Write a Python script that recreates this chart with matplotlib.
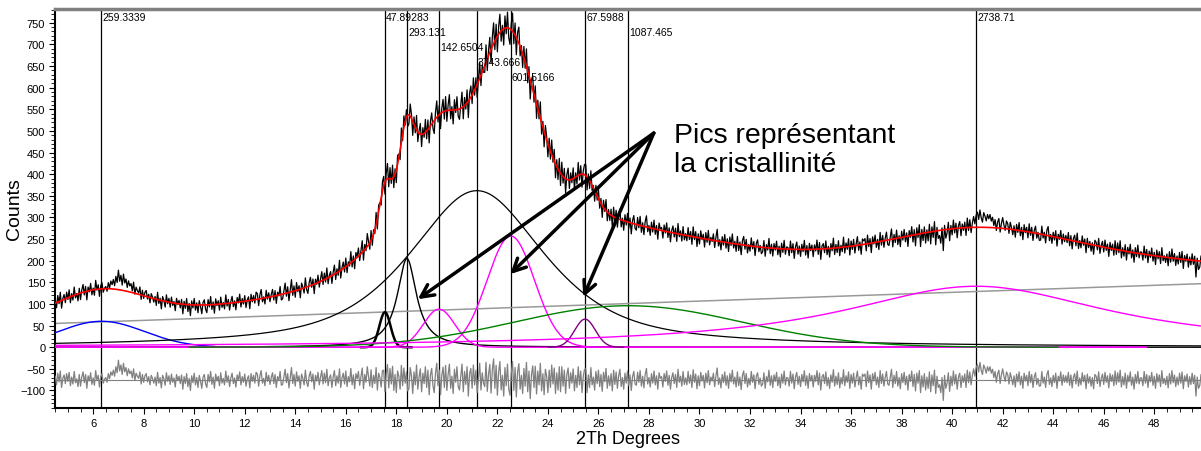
import numpy as np
import matplotlib
matplotlib.use('Agg')
import matplotlib.pyplot as plt
from matplotlib.ticker import MultipleLocator

plt.rcParams['font.family'] = ['Liberation Sans', 'DejaVu Sans']

# fitted peaks: position (2Th), height (counts), half width, lorentz share, area label
peak_pos = [6.33, 17.55, 18.42, 19.69, 21.19, 22.53, 25.47, 27.18, 40.95]
peak_height = [60, 81, 205, 88, 362, 257, 65, 96, 141]
peak_hwhm = [2.0, 0.26, 0.46, 0.73, 3.2, 1.1, 0.48, 5.3, 6.5]
peak_eta = [0, 0, 1, 0, 0.7, 0, 0, 0, 1]
peak_area = ['259.3339', '47.89283', '293.131', '142.6504', '3743.666',
             '601.5166', '67.5988', '1087.465', '2738.71']

# linear background (counts at 4.5 and 49.9 deg)
bg_range = [4.5, 49.9]
bg_counts = [55, 147]

# residual (observed - fit), one value every 0.05 deg from 4.5 to 49.9
resid = [
    8, -12, 15, -5, 20, -18, 3, 11, -9, 14, -4, 17, -14, 6, -10, 19, -7, 2, -16, 12,
    -15, 6, 18, -7, 12, -20, 9, -3, 16, -11, 4, -13, 21, -2, 10, -17, 7, 14, -8, 1,
    5, -6, 14, 2, 18, 10, 22, 8, 30, 16, 45, 20, 34, 12, 38, 18, 28, 9, 25, 14,
    20, 4, 25, -2, 15, 8, 3, 18, -10, 12, -6, 9, 14, -5, 7, -12, 10, 3, -8, 6,
    -14, 17, -8, 5, -19, 10, 2, -13, 16, -4, 9, -11, 13, -6, 4, -17, 12, -2, 8, -9,
    11, -22, 7, -9, 14, -16, 3, -25, 9, -7, 15, -12, 5, -18, 10, -3, -20, 6, 12, -10,
    -18, 12, -5, 19, -11, 6, -20, 13, -3, 8, -14, 16, -8, 3, -12, 20, -6, 9, -16, 4,
    15, -9, 4, -17, 11, -2, 18, -12, 7, -6, 13, -15, 2, 9, -19, 14, -4, 10, -8, 17,
    13, -15, 9, 21, -8, 3, -14, 17, -4, 10, -11, 5, 16, -9, 12, -18, 7, -2, 19, -13,
    -11, 6, 24, -7, 14, -19, 5, 28, -9, 12, -15, 18, -4, 9, -20, 13, 3, -12, 22, -6,
    -16, 8, 19, -5, 13, -22, 10, -3, 17, -12, 6, 21, -10, 15, -7, 24, -14, 4, 11, -18,
    6, 21, -14, 9, -8, 25, -18, 4, 15, -10, 20, -16, 7, -5, 26, -12, 11, -21, 14, 2,
    19, -13, 7, 27, -21, 12, -6, 30, 8, -15, 23, -18, 10, -9, 28, -24, 15, 5, -17, 21,
    22, -28, 14, 35, -19, 26, -10, 31, -25, 12, -30, 20, 8, -22, 33, -14, 27, -8, 18, -26,
    -20, 28, 9, -32, 18, -12, 34, -22, 6, 25, -28, 15, -9, 30, -18, 22, -35, 11, 26, -14,
    -30, 15, 38, -14, 22, -35, 10, 29, -18, 33, -25, 12, 36, -20, 8, -32, 24, -6, 30, -16,
    -24, 8, 36, -28, 19, -11, 30, -38, 14, 26, -20, 34, -12, 22, -30, 5, 38, -24, 16, -8,
    -16, 40, -27, 12, 35, -31, 22, 48, -20, 33, -36, 18, 42, -24, 10, -38, 28, -14, 36, -22,
    -36, 15, 42, -25, 28, -40, 18, 37, -22, 10, -32, 26, -15, 40, -28, 20, -44, 12, 32, -18,
    31, -33, 20, -12, 38, -26, 14, -35, 24, 8, -30, 22, -18, 34, -10, 27, -32, 16, -24, 30,
    -28, 30, -15, 22, -32, 12, 27, -20, 16, -8, 25, -26, 10, -18, 30, -12, 20, -30, 8, 24,
    25, -30, 11, -18, 28, -12, 6, -24, 19, -9, 22, -16, 12, -27, 17, -5, 26, -20, 9, -14,
    14, -26, 22, -11, 18, -20, 9, 24, -16, 5, -22, 15, -8, 20, -14, 11, -25, 7, 19, -10,
    -13, 17, -6, 21, -15, 8, -19, 12, 26, -10, 5, -17, 14, -8, 20, -12, 9, -22, 16, 3,
    7, -17, 14, -4, 20, -13, 10, -22, 5, 16, -9, 12, -18, 24, -6, 8, -15, 19, -11, 4,
    -12, 19, -8, 11, -18, 23, -6, 13, -21, 9, -14, 17, -3, 10, -19, 15, -7, 21, -12, 6,
    -3, 15, -16, 8, 27, -11, 4, -19, 12, -7, 18, -13, 9, -20, 14, -5, 22, -10, 6, -17,
    18, -14, 6, -23, 10, 20, -9, 14, -17, 3, -12, 19, -6, 11, -21, 8, 16, -11, 4, -15,
    -10, 16, -20, 7, -5, 22, -13, 9, -18, 11, -4, 17, -14, 6, -19, 13, -8, 20, -12, 5,
    4, -15, 19, -8, 13, -21, 6, 17, -11, 8, -16, 12, -5, 21, -13, 9, -20, 14, -3, 10,
    -17, 10, -4, 21, -12, 15, -24, 7, 12, -9, 18, -14, 5, -20, 11, -6, 23, -15, 8, -11,
    16, -19, 5, -10, 23, -14, 9, -6, 18, -20, 12, -8, 15, -17, 4, 20, -12, 7, -22, 13,
    8, 13, -16, 20, -7, 11, -22, 14, -3, 17, -12, 6, -18, 21, -9, 13, -15, 5, 19, -10,
    -13, 6, 24, -18, 10, -9, 19, -15, 5, -21, 14, -7, 17, -12, 8, -24, 12, -4, 20, -16,
    12, -26, 15, -8, 21, -30, 9, -17, 14, -24, 6, -20, 18, -28, 11, -14, 22, -32, 8, -18,
    -12, -30, 5, -48, 10, -20, -8, 16, -27, 8, -14, 20, -10, 12, -22, 6, 15, -18, 9, -6,
    13, -18, 22, -7, 18, -12, 10, 25, 8, 28, 35, 18, 40, 22, 12, 34, 26, 15, 30, 20,
    30, 15, 24, 5, 19, -6, 14, 22, -9, 11, 25, 8, -4, 18, 12, -10, 16, 4, -12, 9,
    -17, 13, -5, 18, -12, 8, -20, 15, -3, 10, -14, 19, -7, 12, -18, 6, 16, -11, 3, -15,
    -14, 19, -8, 6, -18, 12, 21, -11, 4, -16, 10, -7, 15, -20, 8, -3, 18, -13, 11, -6,
    9, -7, 17, -13, 11, -19, 6, 14, -10, 20, -15, 4, -12, 16, -5, 10, -21, 13, -8, 7,
    -15, 5, -21, 12, 8, -9, 18, -16, 3, 13, -11, 17, -6, 9, -19, 14, -4, 11, -14, 20,
    -11, 16, -6, 22, -17, 7, -12, 15, -20, 10, -5, 18, -13, 6, -22, 12, -8, 19, -10, 4,
    4, -14, 19, -8, 12, -18, 9, -5, 17, -13, 8, -20, 14, -6, 11, -16, 21, -9, 3, -12,
    8, -19, 14, -10, 21, -7, 11, -16, 6, -12, 15, -8, 18, -21, 9, -4, 13, -17, 7, -11,
    15, -9, 10, -38, 6, -20, -14, 12, -6,
]
resid_offset = -75

# styles of the component curves
peak_colors = ['#0000ff', 'black', 'black', '#ff00ff', 'black', '#ff00ff',
               '#800080', '#008000', '#ff00ff']
peak_lw = [1, 1.8, 1, 1, 0.9, 1, 1, 1, 1]
peak_span = [(4.5, 10.8), (16.6, 18.6), (4.5, 49.9), (4.5, 47.7), (4.5, 49.9),
             (4.5, 47.7), (24.0, 27.0), (9.8, 44.2), (4.5, 49.9)]
label_level = [0, 0, 1, 2, 3, 4, 0, 1, 0]


def pvoigt(x, c, h, w, eta):
    d = ((x - c) / w) ** 2
    return h * (eta / (1 + d) + (1 - eta) * np.exp(-np.log(2) * d))


def background(x):
    return bg_counts[0] + (bg_counts[1] - bg_counts[0]) * (x - bg_range[0]) / (bg_range[1] - bg_range[0])


def total_fit(x):
    y = background(x)
    for c, h, w, e in zip(peak_pos, peak_height, peak_hwhm, peak_eta):
        y = y + pvoigt(x, c, h, w, e)
    return y


x_fine = np.linspace(bg_range[0], bg_range[1], 2300)
x_obs = np.linspace(bg_range[0], bg_range[1], len(resid))
res = np.array(resid, dtype=float)
obs = total_fit(x_obs) + res

fig = plt.figure(figsize=(12.01, 4.52), dpi=100)
ax = fig.add_axes([55 / 1201, 43 / 452, 1146 / 1201, 399 / 452])

# peak marker lines and area labels
for c, lab, lev in zip(peak_pos, peak_area, label_level):
    ax.axvline(c, color='black', lw=0.9, zorder=1)
    ax.text(c + 0.04, 764 - 35 * lev, lab, fontsize=7.5, va='center', ha='left', zorder=6)

ax.plot(x_fine, background(x_fine), color='#999999', lw=1.1, zorder=2)
for c, h, w, e, col, lw, sp in zip(peak_pos, peak_height, peak_hwhm, peak_eta,
                                   peak_colors, peak_lw, peak_span):
    xs = x_fine[(x_fine >= sp[0]) & (x_fine <= sp[1])]
    ax.plot(xs, pvoigt(xs, c, h, w, e), color=col, lw=lw, zorder=3)

ax.plot(x_obs, obs, color='black', lw=0.9, zorder=4)
ax.plot(x_fine, total_fit(x_fine), color='#ff0000', lw=1.2, zorder=5)

ax.axhline(resid_offset, color='#808080', lw=0.8, zorder=2)
ax.plot(x_obs, res + resid_offset, color='#808080', lw=0.9, zorder=3)

# arrows to the crystalline peaks
for tx, ty in [(18.85, 111), (22.51, 169), (25.40, 116)]:
    ax.annotate('', xy=(tx, ty), xytext=(28.19, 495),
                arrowprops=dict(arrowstyle='->,head_length=0.9,head_width=0.45',
                                lw=2.5, color='black', shrinkA=0, shrinkB=0),
                zorder=7)
ax.text(28.98, 520, 'Pics représentant\nla cristallinité', fontsize=20.5,
        va='top', ha='left', linespacing=1.15, zorder=7)

ax.set_xlim(4.49, 49.85)
ax.set_ylim(-140.5, 782)
ax.set_xticks(np.arange(6, 49, 2))
ax.xaxis.set_minor_locator(MultipleLocator(0.5))
ax.set_yticks(np.arange(-100, 751, 50))
ax.yaxis.set_minor_locator(MultipleLocator(10))
ax.tick_params(which='major', direction='out', length=4, labelsize=8, pad=3)
ax.tick_params(which='minor', direction='out', length=3)

ax.spines['right'].set_visible(False)
ax.spines['top'].set_color('#808080')
ax.spines['top'].set_linewidth(2.5)
ax.spines['left'].set_linewidth(1.5)
ax.spines['bottom'].set_linewidth(1.5)

ax.set_ylabel('Counts', fontsize=14)
ax.yaxis.set_label_coords(-0.028, 0.5)
ax.set_xlabel('2Th Degrees', fontsize=13, labelpad=2)

fig.savefig('out.png', dpi=100)
